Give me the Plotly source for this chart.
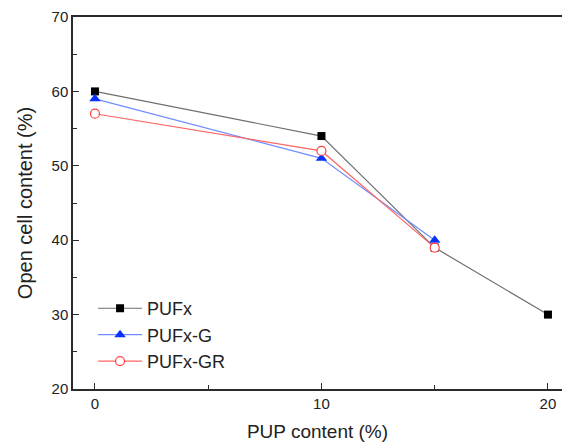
import plotly.graph_objects as go

# PUP loading (%) and open cell content (%) for each foam series
pup_pufx = [0, 10, 15, 20]
open_pufx = [60, 54, 39, 30]

pup_g = [0, 10, 15]
open_g = [59, 51, 40]

pup_gr = [0, 10, 15]
open_gr = [57, 52, 39]

FONT = "Liberation Sans, Arial, sans-serif"
AXIS_COLOR = "#2b2b2b"
TEXT_COLOR = "#222222"

fig = go.Figure()

fig.add_trace(go.Scatter(
    x=pup_pufx, y=open_pufx, name="PUFx", mode="lines+markers",
    line=dict(color="#6e6e6e", width=1.2),
    marker=dict(symbol="square", size=8, color="#000000"),
))
fig.add_trace(go.Scatter(
    x=pup_g, y=open_g, name="PUFx-G", mode="lines+markers",
    line=dict(color="#6f8dff", width=1.2),
    marker=dict(symbol="triangle-up", size=10, color="#0a32ff"),
))
fig.add_trace(go.Scatter(
    x=pup_gr, y=open_gr, name="PUFx-GR", mode="lines+markers",
    line=dict(color="#ff6666", width=1.2),
    marker=dict(symbol="circle", size=9, color="white",
                line=dict(width=1.2, color="#ff4040")),
))

fig.update_layout(
    width=562, height=447,
    margin=dict(l=73, r=0, t=17, b=58),
    paper_bgcolor="white", plot_bgcolor="white",
    font=dict(family=FONT, color=TEXT_COLOR),
    showlegend=True,
    legend=dict(
        x=0.041, y=0.266, xanchor="left", yanchor="top",
        bgcolor="rgba(0,0,0,0)", borderwidth=0,
        font=dict(size=18, family=FONT, color=TEXT_COLOR),
        tracegroupgap=0, itemwidth=44,
    ),
)

fig.update_xaxes(
    range=[-0.97, 20.62],
    tickvals=[0, 10, 20],
    ticks="inside", ticklen=6, tickwidth=1.2, tickcolor=AXIS_COLOR,
    minor=dict(ticks="inside", ticklen=4, tickwidth=1.2, tickcolor=AXIS_COLOR,
               tickvals=[5, 15]),
    showline=True, linecolor=AXIS_COLOR, linewidth=1.5, mirror=True,
    showgrid=False, zeroline=False,
    tickfont=dict(size=15, family=FONT, color=TEXT_COLOR),
    title=dict(text="PUP content (%)", font=dict(size=19, family=FONT, color=TEXT_COLOR),
               standoff=14),
)

fig.update_yaxes(
    range=[20, 70],
    tickvals=[20, 30, 40, 50, 60, 70],
    ticks="inside", ticklen=6, tickwidth=1.2, tickcolor=AXIS_COLOR,
    minor=dict(ticks="inside", ticklen=4, tickwidth=1.2, tickcolor=AXIS_COLOR,
               tickvals=[25, 35, 45, 55, 65]),
    showline=True, linecolor=AXIS_COLOR, linewidth=1.5, mirror=False,
    showgrid=False, zeroline=False,
    tickfont=dict(size=15, family=FONT, color=TEXT_COLOR),
    title=dict(text="Open cell content (%)", font=dict(size=20, family=FONT, color=TEXT_COLOR),
               standoff=14),
)

fig.write_html("out.html")
